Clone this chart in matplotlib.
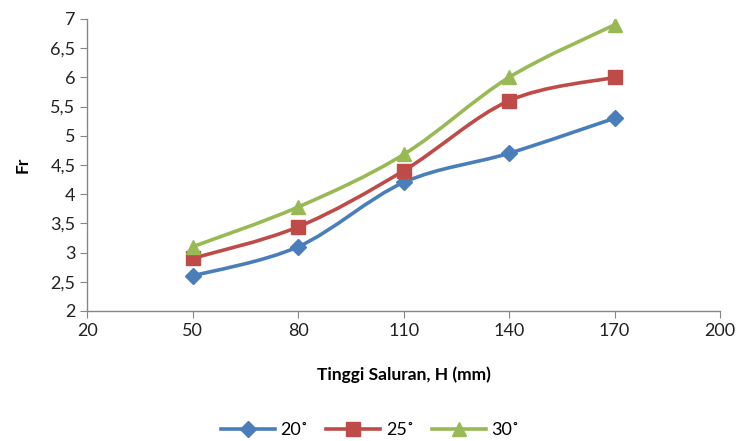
import numpy as np
import matplotlib.pyplot as plt
from matplotlib.path import Path
from matplotlib.patches import PathPatch
from matplotlib.ticker import FuncFormatter

H = [50, 80, 110, 140, 170]
fr_20 = [2.6, 3.1, 4.2, 4.7, 5.3]
fr_25 = [2.9, 3.44, 4.4, 5.6, 6.0]
fr_30 = [3.1, 3.78, 4.68, 6.0, 6.9]
labels = ["20˚", "25˚", "30˚"]
colors = ["#4A7EBB", "#BE4B48", "#98B954"]
markers = ["D", "s", "^"]
msizes = [8, 10, 10]

plt.rcParams['font.family'] = ['Lato', 'DejaVu Sans']


def smooth_path(x, y):
    # Excel-style smoothed line: cubic Bezier through points (Catmull-Rom, tension 1/6)
    x = np.asarray(x, float)
    y = np.asarray(y, float)
    n = len(x)
    verts = [(x[0], y[0])]
    codes = [Path.MOVETO]
    for i in range(n - 1):
        i0 = max(i - 1, 0)
        i3 = min(i + 2, n - 1)
        c1 = (x[i] + (x[i + 1] - x[i0]) / 6, y[i] + (y[i + 1] - y[i0]) / 6)
        c2 = (x[i + 1] - (x[i3] - x[i]) / 6, y[i + 1] - (y[i3] - y[i]) / 6)
        verts += [c1, c2, (x[i + 1], y[i + 1])]
        codes += [Path.CURVE4] * 3
    return Path(verts, codes)


fig = plt.figure(figsize=(7.4, 4.41), dpi=100)
ax = fig.add_axes([0.118, 0.295, 0.855, 0.662])

for ys, c, m, ms, lab in zip([fr_20, fr_25, fr_30], colors, markers, msizes, labels):
    ax.add_patch(PathPatch(smooth_path(H, ys), fill=False, edgecolor=c, lw=2.6,
                           capstyle='round', joinstyle='round', zorder=2))
    ax.plot(H, ys, linestyle='none', marker=m, ms=ms, color=c, zorder=3)
    ax.plot([], [], color=c, lw=2.6, marker=m, ms=ms, label=lab)

ax.set_xlim(20, 200)
ax.set_ylim(2, 7)
ax.set_xticks(np.arange(20, 201, 30))
ax.set_yticks(np.arange(2, 7.01, 0.5))
ax.yaxis.set_major_formatter(FuncFormatter(lambda v, p: f"{v:g}".replace(".", ",")))

for s in ["top", "right"]:
    ax.spines[s].set_visible(False)
for s in ["left", "bottom"]:
    ax.spines[s].set_color("#868686")
    ax.spines[s].set_linewidth(1)
ax.tick_params(colors="#868686", labelcolor="#222222", labelsize=13, length=5, direction='out')

ax.set_xlabel("Tinggi Saluran, H (mm)", fontsize=12.5, fontweight='bold', labelpad=20)
ax.set_ylabel("Fr", fontsize=12.5, fontweight='bold', labelpad=14)

fig.legend(loc='lower center', bbox_to_anchor=(0.5, -0.03), ncol=3, frameon=False,
           fontsize=13, handlelength=3, columnspacing=1.0, handletextpad=0.3)

fig.savefig("out.png", dpi=100)
